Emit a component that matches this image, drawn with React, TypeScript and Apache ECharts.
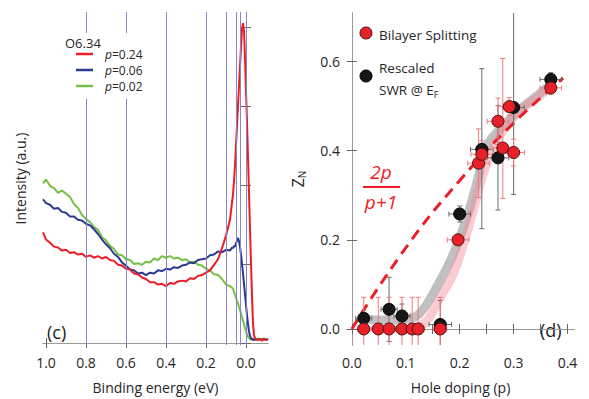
import React, { useEffect, useRef } from "react";
import * as echarts from "echarts";

// ---------- Panel (c): ARPES EDCs ----------
const bulkEnergy = [1.015, 1.0, 0.98, 0.96, 0.94, 0.92, 0.9, 0.88, 0.86, 0.84, 0.82, 0.8, 0.78, 0.76, 0.74, 0.72, 0.7, 0.68, 0.66, 0.64, 0.62, 0.6, 0.58, 0.56, 0.54, 0.52, 0.5, 0.48, 0.46, 0.44, 0.42, 0.4, 0.38, 0.36, 0.34, 0.32, 0.3, 0.28, 0.26, 0.24, 0.22, 0.2, 0.18, 0.16, 0.14, 0.12, 0.1, 0.08];
const edgeEnergy = [0.07, 0.065, 0.06, 0.055, 0.05, 0.045, 0.04, 0.035, 0.03, 0.025, 0.02, 0.015, 0.01, 0.005, 0.0, -0.005, -0.01, -0.015, -0.02, -0.025, -0.03, -0.035, -0.04, -0.045, -0.05, -0.06, -0.07, -0.08, -0.09, -0.1, -0.11];

const redBulk = [1.4, 1.31, 1.27, 1.22, 1.21, 1.17, 1.18, 1.14, 1.15, 1.12, 1.13, 1.09, 1.11, 1.08, 1.1, 1.07, 1.09, 1.05, 1.04, 0.99, 0.98, 0.94, 0.93, 0.88, 0.87, 0.83, 0.81, 0.77, 0.77, 0.74, 0.75, 0.72, 0.76, 0.75, 0.78, 0.79, 0.78, 0.82, 0.81, 0.85, 0.86, 0.89, 0.92, 0.99, 1.06, 1.2, 1.36, 1.56];
const redEdge = [1.78, 1.88, 2.05, 2.25, 2.5, 2.75, 3.0, 3.25, 3.5, 3.75, 3.98, 4.05, 3.95, 3.6, 3.2, 2.8, 2.35, 1.9, 1.45, 1.0, 0.6, 0.25, 0.1, 0.06, 0.05, 0.04, 0.05, 0.03, 0.05, 0.04, 0.05];

const blueBulk = [1.82, 1.77, 1.75, 1.7, 1.71, 1.66, 1.65, 1.6, 1.6, 1.56, 1.55, 1.51, 1.49, 1.44, 1.38, 1.31, 1.25, 1.2, 1.13, 1.09, 1.02, 0.98, 0.93, 0.92, 0.88, 0.89, 0.86, 0.89, 0.88, 0.92, 0.91, 0.94, 0.93, 0.96, 0.95, 0.98, 0.99, 1.02, 1.01, 1.05, 1.06, 1.07, 1.11, 1.12, 1.16, 1.15, 1.18, 1.17];
const blueEdge = [1.21, 1.2, 1.23, 1.22, 1.26, 1.3, 1.33, 1.29, 1.22, 1.12, 1.0, 0.88, 0.75, 0.62, 0.48, 0.35, 0.24, 0.15, 0.09, 0.06, 0.05, 0.04, 0.05, 0.04, 0.05, 0.04, 0.05, 0.04, 0.05, 0.04, 0.05];

const greenBulk = [2.02, 2.07, 1.99, 1.96, 1.9, 1.93, 1.89, 1.85, 1.76, 1.71, 1.62, 1.57, 1.53, 1.47, 1.43, 1.34, 1.3, 1.23, 1.19, 1.12, 1.11, 1.06, 1.05, 1.0, 1.01, 0.99, 1.03, 1.02, 1.07, 1.05, 1.1, 1.08, 1.1, 1.07, 1.08, 1.05, 1.06, 1.02, 1.03, 0.99, 0.98, 0.94, 0.92, 0.87, 0.86, 0.81, 0.74, 0.72];
const greenEdge = [0.7, 0.69, 0.64, 0.62, 0.57, 0.53, 0.5, 0.46, 0.42, 0.37, 0.33, 0.28, 0.24, 0.19, 0.15, 0.11, 0.08, 0.06, 0.05, 0.04, 0.06, 0.04, 0.05, 0.06, 0.04, 0.06, 0.04, 0.05, 0.06, 0.04, 0.05];

const markerEnergies = [0.8, 0.6, 0.4, 0.2, 0.1, 0.05, 0.025, 0.0];
const energyTicks = [0, 0.2, 0.4, 0.6, 0.8, 1.0];
const intensityTicks = [0, 1, 2, 3, 4];

// ---------- Panel (d): Z_N vs hole doping ----------
const bsP = [0.022, 0.049, 0.069, 0.093, 0.112, 0.123, 0.164, 0.197, 0.235, 0.241, 0.271, 0.28, 0.292, 0.3, 0.369];
const bsZ = [0, 0, 0, 0, 0, 0, 0, 0.2, 0.372, 0.392, 0.466, 0.406, 0.499, 0.396, 0.541];
const bsZlo = [-0.07, -0.07, -0.07, -0.07, -0.07, -0.07, -0.07, 0.19, 0.295, 0.362, 0.414, 0.293, 0.479, 0.366, 0.526];
const bsZhi = [0.071, 0.071, 0.071, 0.071, 0.071, 0.071, 0.071, 0.21, 0.449, 0.422, 0.518, 0.607, 0.519, 0.426, 0.556];
const bsPerr = [0.012, 0.012, 0.012, 0.012, 0.012, 0.012, 0.012, 0.02, 0.02, 0.02, 0.02, 0.02, 0.02, 0.02, 0.02];

const swrP = [0.022, 0.069, 0.093, 0.164, 0.2, 0.241, 0.271, 0.3, 0.369];
const swrZ = [0.024, 0.044, 0.029, 0.01, 0.258, 0.403, 0.384, 0.497, 0.56];
const swrZlo = [0.006, -0.028, 0.002, -0.044, 0.24, 0.225, 0.267, 0.302, 0.545];
const swrZhi = [0.042, 0.116, 0.056, 0.064, 0.276, 0.584, 0.501, 0.75, 0.575];
const swrPerr = [0.015, 0.015, 0.015, 0.021, 0.02, 0.021, 0.02, 0.02, 0.02];

const fitGrayP = [0.02, 0.06, 0.1, 0.125, 0.157, 0.188, 0.213, 0.234, 0.25, 0.28, 0.312, 0.34, 0.37];
const fitGrayZ = [0.02, 0.02, 0.022, 0.034, 0.093, 0.167, 0.249, 0.338, 0.41, 0.455, 0.493, 0.52, 0.55];
const fitPinkP = [0.115, 0.14, 0.164, 0.188, 0.207, 0.225, 0.241, 0.26, 0.28, 0.312, 0.34, 0.37];
const fitPinkZ = [0.0, 0.02, 0.071, 0.123, 0.19, 0.264, 0.338, 0.4, 0.445, 0.49, 0.515, 0.545];
const dashP = [0, 0.1, 0.2, 0.3, 0.392];
const dashZ = [0, 0.182, 0.333, 0.462, 0.563];

const dopingTicks = [0, 0.05, 0.1, 0.15, 0.2, 0.25, 0.3, 0.35, 0.4];
const dopingLabels = [0, 0.1, 0.2, 0.3, 0.4];
const zTicks = [0, 0.2, 0.4, 0.6];

const FONT = "Open Sans";
const TXT = "#262626";
const AX = "#9a9a9a";

const zip = (a: number[], b: number[]) => a.map((v, i) => [v, b[i]]);

const errRender = (color: string) => (params: any, api: any) => {
  const p = api.value(0);
  const z = api.value(1);
  const lo = api.value(2);
  const hi = api.value(3);
  const ex = api.value(4);
  const t = api.coord([p, hi]);
  const b = api.coord([p, lo]);
  const l = api.coord([p - ex, z]);
  const r = api.coord([p + ex, z]);
  const c = 2.5;
  const style = { stroke: color, lineWidth: 1 };
  const ln = (x1: number, y1: number, x2: number, y2: number) => ({ type: "line", shape: { x1, y1, x2, y2 }, style });
  return {
    type: "group",
    children: [
      ln(t[0], t[1], b[0], b[1]),
      ln(t[0] - c, t[1], t[0] + c, t[1]),
      ln(b[0] - c, b[1], b[0] + c, b[1]),
      ln(l[0], l[1], r[0], r[1]),
      ln(l[0], l[1] - c, l[0], l[1] + c),
      ln(r[0], r[1] - c, r[0], r[1] + c),
    ],
  };
};

export default function App() {
  const ref = useRef<HTMLDivElement>(null);
  useEffect(() => {
    if (!ref.current) return;
    const chart = echarts.init(ref.current, undefined, { renderer: "svg" });
    const labelStyle = { fontFamily: FONT, fontSize: 14, color: TXT };
    const boxAxis = (extra: any) => ({
      type: "value",
      axisLine: { show: true, lineStyle: { color: AX, width: 1 } },
      splitLine: { show: false },
      axisTick: { show: true, inside: true, length: 5, lineStyle: { color: "#666" } },
      ...extra,
    });
    const curves = [
      { name: "p=0.24", color: "#ee1c25", data: zip(bulkEnergy.concat(edgeEnergy), redBulk.concat(redEdge)) },
      { name: "p=0.06", color: "#2b3990", data: zip(bulkEnergy.concat(edgeEnergy), blueBulk.concat(blueEdge)) },
      { name: "p=0.02", color: "#76c043", data: zip(bulkEnergy.concat(edgeEnergy), greenBulk.concat(greenEdge)) },
    ];
    const option: any = {
      animation: false,
      backgroundColor: "#ffffff",
      grid: [
        { left: 43, top: 12, width: 225, height: 335 },
        { left: 347, top: 13, width: 227, height: 335 },
      ],
      xAxis: [
        boxAxis({
          gridIndex: 0, min: -0.11, max: 1.015, inverse: true,
          axisTick: { show: true, inside: true, length: 5, customValues: energyTicks, lineStyle: { color: "#666" } },
          axisLabel: { ...labelStyle, margin: 10, customValues: energyTicks, formatter: (v: number) => v.toFixed(1) },
          name: "Binding energy (eV)", nameLocation: "middle", nameGap: 35,
          nameTextStyle: { ...labelStyle },
        }),
        boxAxis({
          gridIndex: 0, position: "top", min: -0.11, max: 1.015, inverse: true,
          axisTick: { show: true, inside: true, length: 5, customValues: energyTicks, lineStyle: { color: "#666" } },
          axisLabel: { show: false },
        }),
        boxAxis({
          gridIndex: 1, min: -0.009, max: 0.412,
          axisTick: { show: true, inside: true, length: 5, customValues: dopingTicks, lineStyle: { color: "#666" } },
          axisLabel: { ...labelStyle, margin: 10, customValues: dopingLabels, formatter: (v: number) => v.toFixed(1) },
          name: "Hole doping (p)", nameLocation: "middle", nameGap: 35,
          nameTextStyle: { ...labelStyle },
        }),
        boxAxis({
          gridIndex: 1, position: "top", min: -0.009, max: 0.412,
          axisTick: { show: true, inside: true, length: 5, customValues: dopingTicks, lineStyle: { color: "#666" } },
          axisLabel: { show: false },
        }),
      ],
      yAxis: [
        boxAxis({
          gridIndex: 0, min: -0.025, max: 4.19,
          axisTick: { show: true, inside: true, length: 5, customValues: intensityTicks, lineStyle: { color: "#666" } },
          axisLabel: { show: false },
          name: "Intensity (a.u.)", nameLocation: "middle", nameGap: 16, nameRotate: 90,
          nameTextStyle: { ...labelStyle },
        }),
        boxAxis({
          gridIndex: 0, position: "right", min: -0.025, max: 4.19,
          axisTick: { show: true, inside: true, length: 5, customValues: intensityTicks, lineStyle: { color: "#666" } },
          axisLabel: { show: false },
        }),
        boxAxis({
          gridIndex: 1, min: -0.036, max: 0.709,
          axisTick: { show: true, inside: true, length: 5, customValues: zTicks, lineStyle: { color: "#666" } },
          axisLabel: { ...labelStyle, margin: 7, customValues: zTicks, formatter: (v: number) => v.toFixed(1) },
          name: "{z|Z}{n|N}", nameLocation: "middle", nameGap: 40, nameRotate: 90,
          nameTextStyle: {
            ...labelStyle,
            rich: {
              z: { fontFamily: FONT, fontSize: 16, color: TXT },
              n: { fontFamily: FONT, fontSize: 10, color: TXT, verticalAlign: "bottom", padding: [8, 0, 0, 0] },
            },
          },
        }),
        boxAxis({
          gridIndex: 1, position: "right", min: -0.036, max: 0.709,
          axisTick: { show: true, inside: true, length: 5, customValues: zTicks, lineStyle: { color: "#666" } },
          axisLabel: { show: false },
        }),
      ],
      series: [
        {
          type: "line", name: "markers", xAxisIndex: 0, yAxisIndex: 0, data: [], silent: true, z: 1,
          markLine: {
            silent: true, symbol: "none", label: { show: false },
            lineStyle: { color: "#8585c8", width: 1, type: "solid" },
            data: markerEnergies.map((e) => ({ xAxis: e })),
          },
        },
        ...curves.slice().reverse().map((c) => ({
          type: "line", name: c.name, xAxisIndex: 0, yAxisIndex: 0, data: c.data,
          showSymbol: false, symbol: "none", z: 3,
          lineStyle: { color: c.color, width: 2 }, itemStyle: { color: c.color },
        })),
        {
          type: "line", name: "fit SWR", xAxisIndex: 2, yAxisIndex: 2, data: zip(fitGrayP, fitGrayZ),
          smooth: 0.4, symbol: "none", z: 2,
          lineStyle: { color: "rgba(150,150,150,0.6)", width: 9, cap: "round" },
        },
        {
          type: "line", name: "fit BS", xAxisIndex: 2, yAxisIndex: 2, data: zip(fitPinkP, fitPinkZ),
          smooth: 0.4, symbol: "none", z: 2,
          lineStyle: { color: "rgba(245,140,150,0.45)", width: 9, cap: "round" },
        },
        {
          type: "line", name: "2p/(p+1)", xAxisIndex: 2, yAxisIndex: 2, data: zip(dashP, dashZ),
          smooth: true, symbol: "none", z: 3,
          lineStyle: { color: "#ee1c25", width: 3, type: [11, 7] },
        },
        {
          type: "custom", name: "SWR err", xAxisIndex: 2, yAxisIndex: 2, clip: true, z: 4,
          renderItem: errRender("#6a6a6a"),
          data: swrP.map((p, i) => [p, swrZ[i], swrZlo[i], swrZhi[i], swrPerr[i]]),
        },
        {
          type: "custom", name: "BS err", xAxisIndex: 2, yAxisIndex: 2, clip: true, z: 4,
          renderItem: errRender("#f07a80"),
          data: bsP.map((p, i) => [p, bsZ[i], bsZlo[i], bsZhi[i], bsPerr[i]]),
        },
        {
          type: "scatter", name: "Rescaled SWR @ EF", xAxisIndex: 2, yAxisIndex: 2, z: 5,
          data: zip(swrP, swrZ), symbol: "circle", symbolSize: 12,
          itemStyle: { color: "#161616", borderColor: "#000", borderWidth: 1, opacity: 1 },
        },
        {
          type: "scatter", name: "Bilayer Splitting", xAxisIndex: 2, yAxisIndex: 2, z: 6,
          data: zip(bsP, bsZ), symbol: "circle", symbolSize: 12,
          itemStyle: { color: "#e8202a", borderColor: "#4a1212", borderWidth: 1, opacity: 1 },
        },
      ],
      graphic: [
        // panel (c) legend with white backing over the marker lines
        { type: "rect", shape: { x: 60, y: 33, width: 86, height: 66 }, style: { fill: "#ffffff" }, z: 10 },
        { type: "text", x: 65, y: 43, z: 11, style: { text: "O6.34", font: `13px "${FONT}"`, fill: TXT, verticalAlign: "middle" } },
        ...curves.map((c, i) => ({
          type: "line", z: 11, shape: { x1: 76, y1: 54 + i * 16, x2: 93, y2: 54 + i * 16 },
          style: { stroke: c.color, lineWidth: 2.5 },
        })),
        ...curves.map((c, i) => ({
          type: "text", x: 105, y: 54 + i * 16, z: 11,
          style: {
            text: `{i|p}=${c.name.slice(2)}`, font: `12px "${FONT}"`, fill: TXT, verticalAlign: "middle",
            rich: { i: { fontStyle: "italic", fontFamily: FONT, fontSize: 12, fill: TXT } },
          },
        })),
        { type: "text", x: 47, y: 332, style: { text: "(c)", font: `18px "${FONT}"`, fill: "#1a1a1a", verticalAlign: "middle" } },
        // panel (d) legend
        { type: "circle", shape: { cx: 366, cy: 33, r: 6 }, style: { fill: "#e8202a", stroke: "#4a1212", lineWidth: 1 } },
        { type: "text", x: 379, y: 35, style: { text: "Bilayer Splitting", font: `13.5px "${FONT}"`, fill: TXT, verticalAlign: "middle" } },
        { type: "circle", shape: { cx: 366, cy: 76, r: 6 }, style: { fill: "#161616", stroke: "#000", lineWidth: 1 } },
        { type: "text", x: 379, y: 68, style: { text: "Rescaled", font: `13.5px "${FONT}"`, fill: TXT, verticalAlign: "middle" } },
        {
          type: "text", x: 379, y: 90,
          style: {
            text: "SWR @ E{s|F}", font: `13.5px "${FONT}"`, fill: TXT, verticalAlign: "middle",
            rich: { s: { fontFamily: FONT, fontSize: 9, fill: TXT, verticalAlign: "bottom", padding: [9, 0, 0, 0] } },
          },
        },
        // formula 2p/(p+1)
        { type: "text", x: 381, y: 172, style: { text: "2p", font: `italic 19px "${FONT}"`, fill: "#ee1c25", align: "center", verticalAlign: "middle" } },
        { type: "line", shape: { x1: 363, y1: 187, x2: 400, y2: 187 }, style: { stroke: "#ee1c25", lineWidth: 2 } },
        { type: "text", x: 381, y: 202, style: { text: "p+1", font: `italic 19px "${FONT}"`, fill: "#ee1c25", align: "center", verticalAlign: "middle" } },
        { type: "text", x: 540, y: 330, style: { text: "(d)", font: `18px "${FONT}"`, fill: "#1a1a1a", verticalAlign: "middle" } },
      ],
    };
    chart.setOption(option);
    return () => chart.dispose();
  }, []);
  return <div ref={ref} style={{ position: "fixed", left: 0, top: 0, width: 589, height: 399, background: "#fff" }} />;
}
